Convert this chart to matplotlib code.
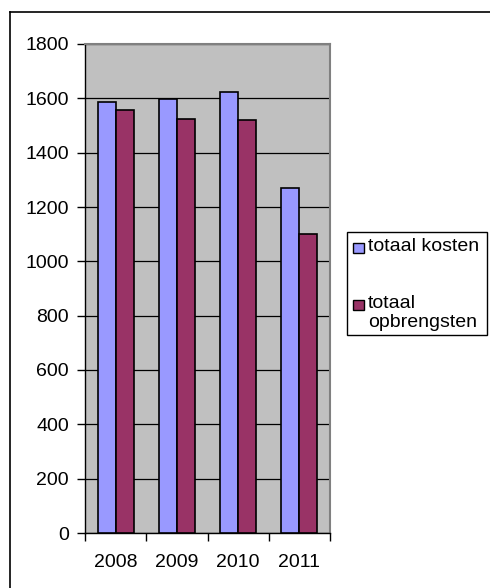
import numpy as np
import matplotlib
matplotlib.use("Agg")
import matplotlib.pyplot as plt
from matplotlib.patches import Rectangle
from matplotlib.lines import Line2D

plt.rcParams['font.family'] = ['Liberation Sans', 'DejaVu Sans']

jaren = ['2008', '2009', '2010', '2011']
kosten = [1585, 1596, 1624, 1271]
opbrengsten = [1557, 1525, 1519, 1099]
labels = ['totaal kosten', 'totaal\nopbrengsten']
kleuren = ['#9999FF', '#993366']

fig = plt.figure(figsize=(4.9, 5.88), dpi=100)

# chart frame (only top and left edges visible)
fig.add_artist(Line2D([10 / 490, 10 / 490], [0, 1 - 12 / 588], color='black', lw=1.2))
fig.add_artist(Line2D([10 / 490, 1], [1 - 12 / 588, 1 - 12 / 588], color='black', lw=1.2))

ax = fig.add_axes([85 / 490, 1 - 533 / 588, 245 / 490, 489 / 588])
ax.set_facecolor('#C0C0C0')

x = np.arange(len(jaren))
w = 0.295
ax.bar(x - w / 2, kosten, w, color=kleuren[0], edgecolor='black', linewidth=1.2, zorder=3)
ax.bar(x + w / 2, opbrengsten, w, color=kleuren[1], edgecolor='black', linewidth=1.2, zorder=3)

ax.set_xlim(-0.5, len(jaren) - 0.5)
ax.set_ylim(0, 1800)
ax.set_yticks(range(0, 1801, 200))
ax.yaxis.grid(True, color='black', linewidth=0.9, zorder=1)
ax.set_axisbelow(True)

ax.set_xticks(x)
ax.set_xticklabels(jaren)
ax.set_xticks(np.arange(-0.5, len(jaren)), minor=True)
ax.tick_params(axis='x', which='major', length=0, pad=15, labelsize=14)
ax.tick_params(axis='x', which='minor', length=6, width=1, direction='out')
ax.tick_params(axis='y', length=6, width=1, direction='out', pad=5.5, labelsize=14)

for s in ['top', 'right']:
    ax.spines[s].set_color('#808080')
    ax.spines[s].set_linewidth(1.5)
for s in ['left', 'bottom']:
    ax.spines[s].set_color('black')
    ax.spines[s].set_linewidth(1.0)

# legend box
fig.add_artist(Rectangle((347 / 490, 1 - 335 / 588), 140 / 490, 103 / 588,
                         transform=fig.transFigure, facecolor='white',
                         edgecolor='black', linewidth=1.0))
ys = [248, 305]
for kleur, label, y in zip(kleuren, labels, ys):
    fig.add_artist(Rectangle((353 / 490, 1 - (y + 5) / 588), 11 / 490, 10 / 588,
                             transform=fig.transFigure, facecolor=kleur,
                             edgecolor='black', linewidth=1.0))
    fig.text(368 / 490, 1 - (y - 10) / 588, label, fontsize=14, va='top', ha='left',
             linespacing=1.12)

fig.savefig('out.png', dpi=100)
